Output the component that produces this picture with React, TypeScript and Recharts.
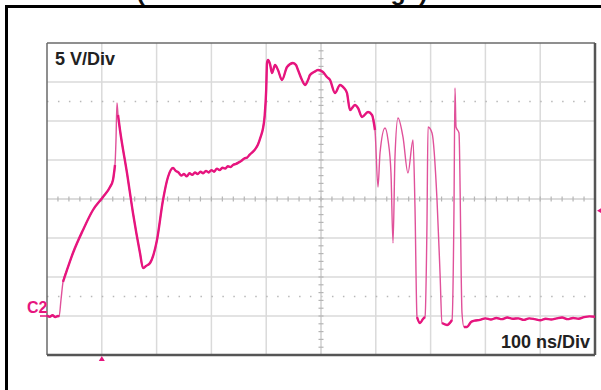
import React from 'react';
import { LineChart, Line, XAxis, YAxis, ReferenceLine, ReferenceDot } from 'recharts';

// scope trace: time in ns (100 ns/div), amplitude in V (5 V/div), ground 3 div below centre
const timeNs = [
  0, 5, 10, 15, 20, 22, 25.5, 29.2, 36.5, 47.4, 65.7, 83.9, 102.2, 115, 120.4, 124.1, 125.9, 127.7, 129.6, 133.2,
  146, 156.9, 169.7, 175.2, 180.7, 188, 200.7, 211.7, 220.8, 230, 235, 240, 245, 250, 255, 260, 265, 270, 275,
  280, 285, 290, 295, 300, 305, 310, 315, 320, 325, 330, 335, 340, 345, 350, 355, 360, 365, 370, 375, 380, 385,
  390, 394, 397, 400, 401.5, 403.3, 407, 410.6, 416.1, 421.5, 428.8, 438, 448.9, 454.4, 458, 465.3, 470.8, 476.3,
  479.9, 487.2, 494.5, 503.6, 510.9, 516.4, 525.5, 534.7, 542, 547.4, 552.9, 562, 567.5, 574.8, 585.8, 593.1,
  598.5, 604, 607.7, 616.8, 622.3, 627.7, 631.4, 635, 640.5, 649.6, 658.7, 667.9, 671.5, 675.2, 680.7, 686.1,
  689.8, 693.4, 695.3, 702.6, 711.7, 717.2, 720.8, 729.9, 739.1, 742.7, 744.5, 746.4, 751.8, 757.3, 760.9, 766.4,
  773.7, 780, 790, 800, 810, 820, 830, 840, 850, 860, 870, 880, 890, 900, 910, 920, 930, 940, 950, 960, 970, 980,
  990, 1000,
];
const voltsC2 = [
  0.05, -0.1, 0.1, -0.15, 0, -0.1, 2.05, 4.36, 5.9, 8.08, 11.03, 13.59, 15.26, 16.54, 17.44, 19.36, 22.56, 27.31, 25.77, 23.85,
  18.33, 13.21, 8.08, 6.15, 6.41, 6.79, 9.74, 14.87, 17.82, 18.97, 18.6, 18.4, 18.0, 18.2, 17.9, 18.3, 18.1, 18.4, 18.2,
  18.5, 18.3, 18.6, 18.4, 18.7, 18.5, 18.9, 18.7, 19.0, 18.9, 19.2, 19.1, 19.4, 19.5, 19.7, 19.9, 20.2, 20.3, 20.7, 21.0, 21.4, 22.0,
  23.0, 24.0, 25.5, 29.0, 32.44, 32.82, 32.3, 31.15, 32.18, 31.54, 30.26, 31.92, 32.44, 32.18, 31.54, 30.26, 29.62, 30.26,
  30.9, 31.28, 31.54, 31.28, 30.64, 30.26, 28.59, 29.62, 29.23, 28.59, 26.41, 27.05, 26.67, 25.51, 26.15, 25.77,
  23.85, 16.54, 20.9, 24.1, 22.56, 18.33, 9.36, 20.38, 25.38, 22.95, 18.33, 22.56, 13.97, -0.13, -0.9, -0.38,
  -0.13, 11.92, 24.23, 23.46, 14.87, 5.51, -0.9, -1.15, -0.51, 13.97, 29.23, 24.23, 23.46, 0.38, -1.41, -1.41,
  -0.77, -0.6, -0.5, -0.3, -0.45, -0.25, -0.4, -0.2, -0.35, -0.3, -0.5, -0.3, -0.4, -0.55, -0.35, -0.45, -0.3, -0.2, -0.4, -0.25, -0.35, -0.15,
  -0.05, -0.1,
];
// stretches where the trace is slow and the noise makes it look thick
const noisyWindows = [
  [0, 22], [29, 125], [129, 400], [401, 600], [674, 691], [719, 741], [758, 1000],
];

const gridX = [100, 200, 300, 400, 600, 700, 800, 900];
const gridY = [0, 5, 10, 20, 25, 30];
const centreX = 500;
const centreY = 15;
const dottedY = [2.5, 27.5];
const minorX = Array.from({ length: 49 }, (_, i) => (i + 1) * 20);
const minorY = Array.from({ length: 39 }, (_, i) => -4 + i);
const triggerTime = 100;
const triggerLevel = 13.5;

const data = timeNs.map((t, i) => ({
  t,
  v: voltsC2[i],
  thick: noisyWindows.some(([a, b]) => t >= a && t <= b) ? voltsC2[i] : null,
}));

const TRACE = '#e6157e';
const TRACE_FAST = '#e0519a';
const GRID = '#dadada';
const FONT = '"Liberation Sans", Arial, Helvetica, sans-serif';

const UpMarker = (props: any) => {
  const { cx, cy } = props;
  return <path d={`M${cx - 3},${cy + 6} L${cx + 3},${cy + 6} L${cx},${cy + 1} Z`} fill={TRACE} />;
};

const LeftMarker = (props: any) => {
  const { cx, cy } = props;
  return <path d={`M${cx + 2},${cy} L${cx + 7},${cy - 3} L${cx + 7},${cy + 3} Z`} fill={TRACE} />;
};

const App: React.FC = () => {
  return (
    <div style={{ position: 'absolute', left: 0, top: 0, width: 601, height: 390, background: '#fff', overflow: 'hidden' }}>
      <div
        style={{
          position: 'absolute', left: 5, top: 5, width: 600, height: 390,
          borderLeft: '3px solid #000', borderTop: '3px solid #000',
        }}
      />
      <div style={{ position: 'absolute', left: 0, top: 0 }}>
        <LineChart width={601} height={390} data={data} margin={{ top: 43, right: 6, bottom: 35, left: 47 }}>
          <XAxis dataKey="t" type="number" domain={[0, 1000]} hide allowDataOverflow />
          <YAxis type="number" domain={[-5, 35]} hide allowDataOverflow />
          {gridX.map((x) => (
            <ReferenceLine key={`gx${x}`} x={x} stroke={GRID} strokeWidth={1.5} />
          ))}
          {gridY.map((y) => (
            <ReferenceLine key={`gy${y}`} y={y} stroke={GRID} strokeWidth={1.5} />
          ))}
          {dottedY.map((y) => (
            <ReferenceLine key={`dy${y}`} y={y} stroke="#b8b8b8" strokeWidth={1.5} strokeDasharray="1.5 9.46" />
          ))}
          <ReferenceLine x={centreX} stroke="#cfcfcf" strokeWidth={1.5} />
          <ReferenceLine y={centreY} stroke="#cfcfcf" strokeWidth={1.5} />
          {minorX.map((x) => (
            <ReferenceLine
              key={`mx${x}`}
              segment={[{ x, y: centreY - 0.32 }, { x, y: centreY + 0.32 }]}
              stroke="#b5b5b5"
              strokeWidth={1.2}
            />
          ))}
          {minorY.map((y) => (
            <ReferenceLine
              key={`my${y}`}
              segment={[{ x: centreX - 4.6, y }, { x: centreX + 4.6, y }]}
              stroke="#b5b5b5"
              strokeWidth={1.2}
            />
          ))}
          <ReferenceLine x={0} stroke="#6a6a6a" strokeWidth={1.5} />
          <ReferenceLine y={35} stroke="#6a6a6a" strokeWidth={1.5} />
          <ReferenceLine x={1000} stroke="#555" strokeWidth={2.5} />
          <ReferenceLine y={-5} stroke="#555" strokeWidth={2.5} />
          <Line
            type="monotone"
            dataKey="v"
            stroke={TRACE_FAST}
            strokeWidth={1.4}
            dot={false}
            isAnimationActive={false}
          />
          <Line
            type="monotone"
            dataKey="thick"
            stroke={TRACE}
            strokeWidth={2.4}
            dot={false}
            connectNulls={false}
            isAnimationActive={false}
          />
          <ReferenceDot x={triggerTime} y={-5} r={0} ifOverflow="visible" shape={<UpMarker />} />
          <ReferenceDot x={1000} y={triggerLevel} r={0} ifOverflow="visible" shape={<LeftMarker />} />
        </LineChart>
      </div>
      <svg width={601} height={390} style={{ position: 'absolute', left: 0, top: 0, pointerEvents: 'none' }}>
        <text x={282} y={-0.5} textAnchor="middle" fontFamily={FONT} fontWeight="bold" fontSize={22} fill="#111"
          textLength={291} lengthAdjust="spacingAndGlyphs">
          (Low-Side Drain Voltage)
        </text>
        <text x={55} y={65} fontFamily={FONT} fontWeight="bold" fontSize={18} fill="#222">5 V/Div</text>
        <text x={590} y={348} textAnchor="end" fontFamily={FONT} fontWeight="bold" fontSize={18} fill="#222">
          100 ns/Div
        </text>
        <text x={27} y={313} fontFamily={FONT} fontWeight="bold" fontSize={16} fill={TRACE}>C2</text>
        <line x1={40} y1={316} x2={48} y2={316} stroke={TRACE} strokeWidth={1.5} />
      </svg>
    </div>
  );
};

export default App;
